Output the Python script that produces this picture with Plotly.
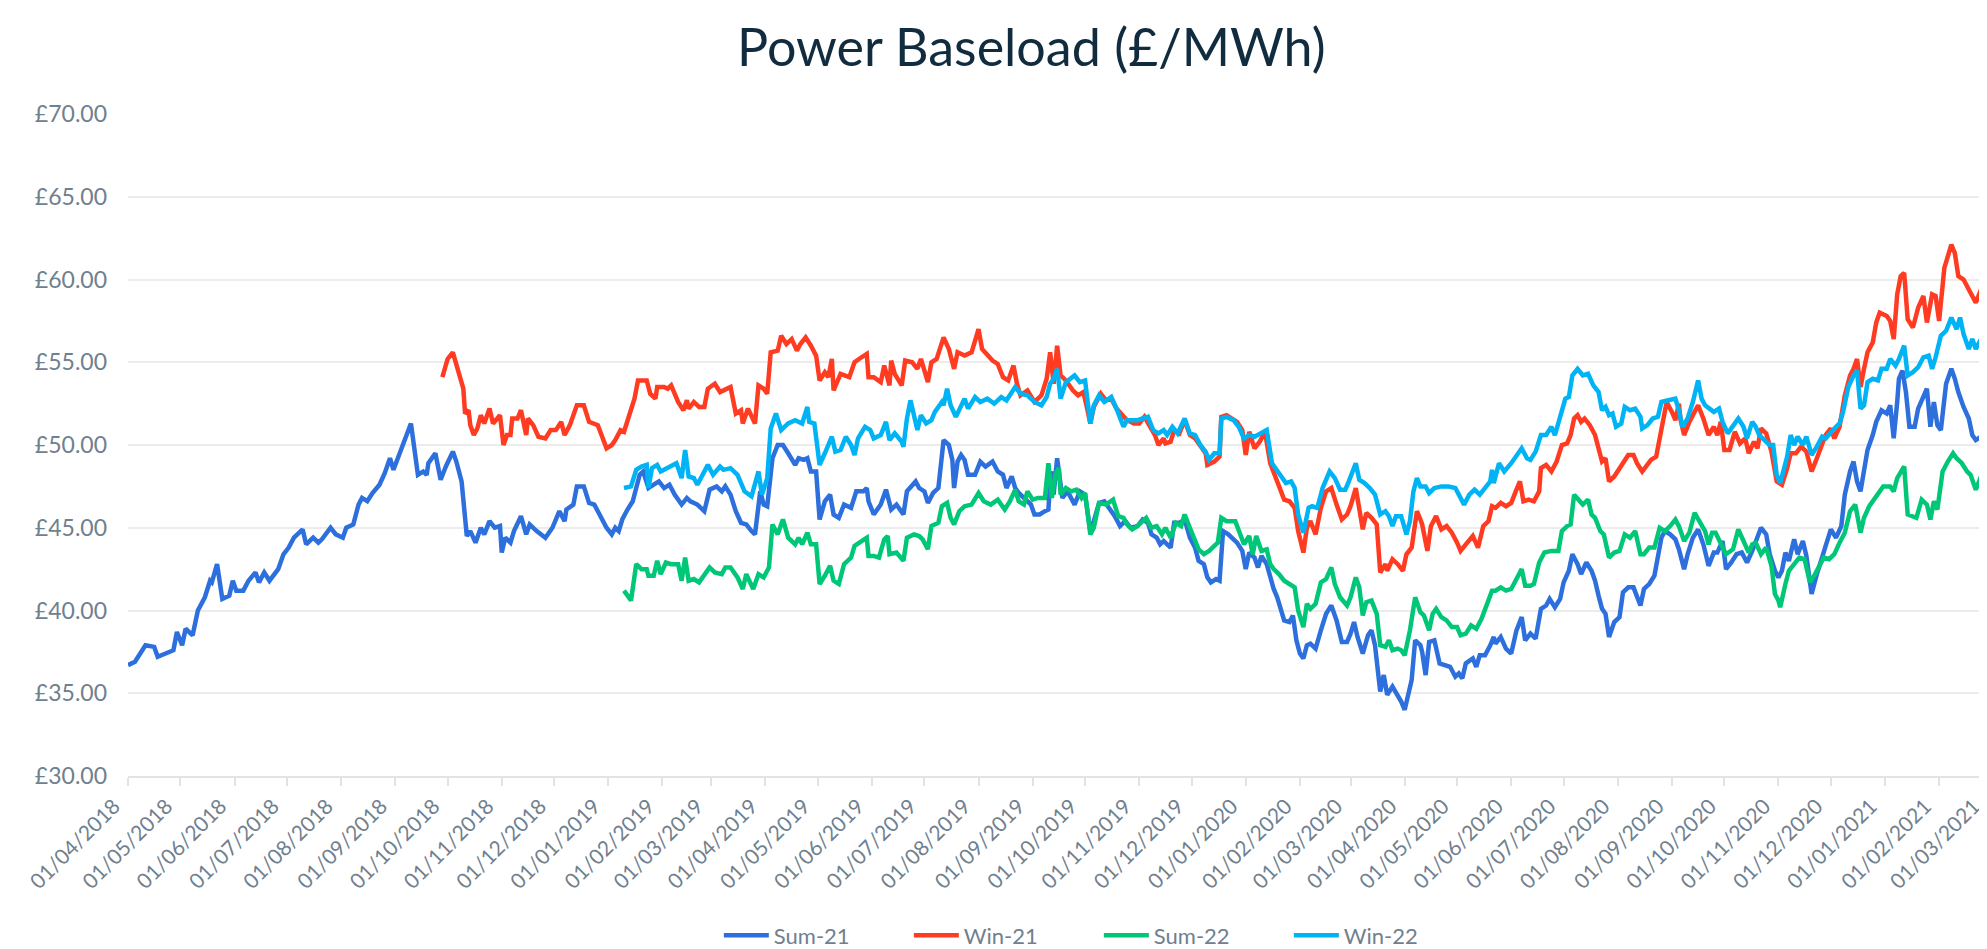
import pandas as pd
import plotly.graph_objects as go

# (days since 01/04/2018, £/MWh)
sum21 = [(0,36.7),(4,36.9),(10,37.9),(15,37.8),(17,37.2),(26,37.6),(28,38.7),(31,37.9),(33,38.9),(37,38.5),(40,40.0),(44,40.8),(47,41.8),(48,41.7),(51,42.8),(54,40.7),(58,40.9),(60,41.8),(62,41.2),(66,41.2),(69,41.8),(73,42.3),(75,41.7),(78,42.3),(81,41.8),(86,42.5),(89,43.4),(92,43.8),(95,44.4),(100,44.9),(102,44.0),(106,44.4),(109,44.1),(111,44.3),(116,45.0),(119,44.6),(123,44.4),(125,45.0),(129,45.2),(132,46.4),(134,46.8),(137,46.6),(140,47.1),(144,47.6),(147,48.3),(150,49.2),(152,48.5),(156,49.7),(162,51.3),(166,48.2),(169,48.4),(171,48.2),(172,48.9),(176,49.5),(179,47.9),(182,48.7),(186,49.6),(188,49.0),(191,47.8),(194,44.5),(196,44.8),(199,44.1),(202,45.0),(204,44.6),(207,45.4),(210,45.0),(213,45.1),(214,43.5),(216,44.4),(219,44.1),(221,44.8),(225,45.7),(228,44.6),(230,45.2),(234,44.8),(239,44.4),(243,45.0),(247,46.0),(250,45.4),(251,46.1),(255,46.4),(257,47.5),(261,47.5),(264,46.5),(267,46.4),(270,45.8),(274,45.0),(277,44.6),(279,45.0),(281,44.8),(283,45.5),(286,46.1),(289,46.6),(291,47.4),(293,48.2),(295,48.4),(298,47.4),(301,47.6),(304,47.8),(307,47.4),(310,47.6),(313,47.0),(317,46.4),(320,46.8),(322,46.6),(326,46.4),(330,46.0),(333,47.3),(337,47.5),(340,47.2),(342,47.5),(345,47.0),(348,46.0),(351,45.3),(354,45.2),(357,44.8),(359,44.6),(362,47.2),(364,46.4),(366,46.3),(369,49.2),(372,50.0),(375,50.0),(378,49.5),(382,48.8),(384,49.2),(387,49.1),(389,49.2),(391,48.4),(394,48.4),(396,45.5),(399,46.6),(402,47.0),(404,45.8),(407,45.6),(410,46.4),(414,46.2),(417,47.2),(421,47.2),(423,47.4),(424,46.6),(427,45.8),(431,46.4),(434,47.3),(437,46.1),(440,46.4),(444,45.8),(446,47.2),(449,47.6),(451,47.8),(453,47.4),(456,47.2),(458,46.5),(461,47.1),(464,47.4),(466,49.0),(467,50.3),(470,50.0),(472,49.1),(473,47.4),(475,49.0),(477,49.4),(479,49.1),(481,48.2),(485,48.2),(488,49.0),(491,48.7),(495,49.0),(498,48.4),(501,48.2),(503,47.4),(506,48.1),(508,47.4),(510,47.1),(513,46.8),(517,46.4),(519,45.8),(522,45.8),(525,46.0),(527,46.1),(528,47.8),(529,48.4),(530,47.0),(532,49.2),(535,46.8),(538,47.2),(542,46.4),(545,47.2),(548,47.0),(551,44.8),(553,45.4),(556,46.5),(559,46.6),(562,46.2),(565,45.7),(568,45.1),(571,45.4),(574,45.0),(578,45.1),(581,45.5),(584,45.3),(586,44.6),(589,44.4),(591,44.0),(593,44.2),(597,43.8),(599,45.3),(602,45.3),(605,45.5),(608,44.4),(611,43.8),(613,43.0),(616,42.8),(618,42.0),(620,41.7),(623,41.9),(625,41.8),(627,44.8),(630,44.6),(633,44.3),(635,44.1),(638,43.6),(640,42.5),(642,43.5),(645,43.2),(647,42.6),(649,43.3),(652,42.8),(654,41.9),(656,41.3),(658,40.8),(660,40.2),(662,39.4),(665,39.3),(667,39.7),(669,38.2),(671,37.4),(673,37.1),(675,37.9),(677,38.0),(680,37.7),(683,38.8),(686,39.8),(689,40.3),(692,39.4),(695,38.1),(698,38.1),(700,38.6),(702,39.3),(704,38.4),(707,37.4),(710,38.5),(712,38.8),(714,37.9),(717,35.1),(719,36.1),(721,34.9),(724,35.4),(727,34.9),(729,34.5),(731,34.0),(733,35.0),(735,35.8),(737,38.2),(740,37.9),(741,37.5),(743,36.1),(745,38.1),(748,38.2),(751,36.8),(754,36.7),(757,36.6),(760,36.0),(762,36.2),(764,35.9),(766,36.8),(770,37.1),(772,36.6),(774,37.3),(777,37.3),(780,37.9),(782,38.4),(783,38.0),(786,38.4),(789,37.7),(792,37.4),(795,38.8),(798,39.6),(800,38.2),(803,38.6),(806,38.3),(809,40.1),(812,40.3),(814,40.7),(817,40.2),(820,40.7),(822,41.7),(825,42.4),(827,43.4),(830,42.8),(832,42.2),(835,42.9),(838,42.4),(840,41.8),(842,40.9),(844,40.1),(846,39.8),(848,38.4),(851,39.3),(854,39.6),(856,41.1),(859,41.4),(862,41.4),(866,40.3),(868,41.3),(871,41.6),(874,42.1),(876,43.2),(878,44.4),(880,44.8),(883,44.6),(886,44.3),(888,43.7),(891,42.5),(893,43.4),(896,44.4),(899,44.9),(902,44.0),(905,42.7),(908,43.5),(910,43.5),(913,44.2),(915,42.5),(918,42.9),(921,43.4),(924,43.5),(927,42.9),(930,43.6),(932,44.2),(935,45.0),(938,44.6),(940,43.4),(943,42.4),(945,42.0),(947,42.4),(949,43.5),(951,43.0),(954,44.3),(956,43.4),(959,44.2),(961,43.3),(964,41.0),(967,42.2),(970,43.2),(972,44.0),(975,44.9),(978,44.4),(981,45.1),(983,47.0),(986,48.4),(988,49.0),(990,47.8),(992,47.2),(994,48.3),(996,49.7),(999,50.6),(1001,51.4),(1004,52.1),(1007,51.9),(1009,52.4),(1011,50.4),(1013,52.6),(1014,54.0),(1016,54.5),(1018,53.2),(1020,51.1),(1023,51.1),(1025,52.2),(1028,53.0),(1030,53.4),(1032,51.1),(1034,52.6),(1036,51.2),(1038,50.9),(1041,53.7),(1044,54.6),(1046,54.0),(1048,53.2),(1051,52.3),(1054,51.6),(1056,50.6),(1058,50.3),(1061,50.5),(1064,50.4),(1067,49.8),(1069,50.8)]

win21 = [(180,54.1),(183,55.2),(186,55.6),(189,54.6),(192,53.4),(193,51.9),(195,52.1),(196,51.2),(198,50.6),(200,51.0),(202,51.8),(204,51.3),(207,52.2),(209,51.3),(213,51.8),(215,50.0),(217,50.6),(219,50.6),(220,51.6),(223,51.6),(225,52.1),(228,50.6),(229,51.6),(232,51.2),(235,50.5),(239,50.4),(242,50.9),(245,50.9),(248,51.4),(250,50.6),(253,51.2),(257,52.4),(261,52.4),(264,51.4),(267,51.3),(269,51.2),(274,49.8),(277,50.0),(279,50.3),(282,50.9),(284,50.8),(287,51.8),(290,52.8),(292,53.9),(297,53.9),(299,53.1),(302,52.8),(303,53.5),(307,53.5),(309,53.4),(311,53.6),(315,52.6),(318,52.1),(320,52.7),(321,52.2),(324,52.6),(327,52.3),(330,52.3),(332,53.4),(336,53.7),(339,53.2),(341,53.3),(345,53.5),(348,51.9),(351,52.1),(352,51.3),(355,52.2),(359,51.3),(361,53.6),(364,53.4),(366,53.1),(368,55.6),(372,55.7),(374,56.6),(377,56.1),(380,56.4),(383,55.7),(385,56.1),(388,56.5),(391,56.0),(394,55.4),(396,53.9),(399,54.4),(401,54.1),(403,55.2),(404,53.3),(408,54.3),(413,54.1),(416,55.0),(420,55.3),(423,55.5),(424,54.1),(427,54.1),(431,53.8),(433,54.8),(436,53.6),(437,55.1),(439,54.3),(443,53.6),(445,55.1),(449,55.0),(452,54.6),(454,55.2),(458,53.8),(460,55.0),(463,55.2),(466,56.2),(467,56.5),(470,55.8),(473,54.6),(475,55.6),(479,55.4),(483,55.6),(487,57.0),(489,55.8),(492,55.4),(495,55.1),(498,54.9),(501,54.1),(504,53.9),(507,54.8),(509,53.7),(511,53.0),(515,53.3),(519,52.6),(523,53.0),(526,54.0),(528,55.6),(530,53.7),(532,56.0),(534,54.2),(537,53.9),(541,53.3),(544,53.0),(547,53.2),(549,52.3),(551,51.3),(553,52.3),(557,53.1),(560,52.7),(563,52.8),(566,52.2),(570,51.7),(572,51.5),(576,51.3),(579,51.3),(582,51.7),(585,51.1),(588,50.6),(590,50.0),(593,50.4),(594,50.1),(597,50.2),(599,50.9),(602,50.7),(605,51.5),(608,50.6),(611,50.4),(614,49.9),(617,49.5),(618,48.8),(622,49.0),(625,49.3),(626,51.7),(629,51.8),(632,51.6),(635,51.4),(638,50.9),(640,49.4),(642,50.8),(645,49.8),(648,50.2),(651,50.8),(654,48.9),(656,48.3),(659,47.6),(662,46.7),(665,46.6),(668,46.2),(670,44.8),(673,43.5),(675,45.0),(677,45.4),(680,44.6),(683,46.2),(686,47.2),(689,47.4),(692,46.4),(695,45.5),(698,45.8),(700,46.3),(703,47.4),(705,46.2),(707,44.9),(709,45.9),(712,45.6),(715,45.2),(717,42.3),(720,42.8),(721,42.4),(724,43.1),(727,42.8),(730,42.4),(732,43.4),(735,43.8),(738,46.0),(740,45.5),(741,45.2),(744,43.6),(746,45.1),(749,45.7),(752,44.9),(755,45.1),(758,44.7),(761,44.1),(763,43.6),(766,44.0),(770,44.5),(773,43.8),(776,45.1),(779,45.4),(781,46.3),(783,46.2),(786,46.5),(789,46.3),(792,46.5),(795,47.3),(797,47.8),(799,46.6),(802,46.7),(805,46.6),(808,47.2),(809,48.6),(812,48.8),(815,48.4),(818,49.0),(821,50.0),(824,50.1),(826,50.6),(828,51.6),(830,51.8),(832,51.4),(834,51.6),(837,51.2),(840,50.6),(842,49.8),(844,49.0),(846,49.2),(848,47.8),(851,48.1),(854,48.6),(856,49.0),(859,49.4),(862,49.4),(864,48.9),(867,48.4),(869,48.7),(872,49.1),(875,49.3),(877,50.4),(879,51.6),(881,52.6),(884,52.0),(886,51.5),(888,52.5),(889,51.5),(891,50.6),(894,51.4),(897,52.0),(899,52.4),(902,51.6),(905,50.6),(908,51.1),(910,50.6),(912,51.4),(914,49.7),(917,49.7),(920,50.8),(923,50.1),(926,50.4),(928,49.5),(931,50.2),(933,49.8),(935,51.0),(938,50.7),(941,49.6),(944,47.8),(947,47.6),(950,48.6),(952,49.5),(955,49.5),(958,49.9),(961,49.6),(964,48.4),(967,49.2),(970,50.0),(972,50.6),(975,51.0),(977,50.4),(980,51.1),(983,53.0),(986,54.2),(988,54.6),(990,55.2),(992,53.5),(994,54.6),(996,55.6),(999,56.2),(1001,57.4),(1003,58.0),(1007,57.8),(1009,57.5),(1011,56.4),(1013,59.1),(1015,60.2),(1017,60.4),(1019,57.6),(1022,57.1),(1025,58.3),(1028,59.0),(1030,57.4),(1033,59.1),(1035,59.0),(1037,57.5),(1040,60.7),(1044,62.1),(1046,61.6),(1048,60.2),(1051,60.0),(1054,59.4),(1056,59.0),(1058,58.6),(1061,59.4),(1064,59.2),(1067,59.8),(1069,61.0)]

sum22 = [(284,41.2),(288,40.6),(291,42.8),(294,42.5),(297,42.5),(298,42.1),(301,42.1),(303,43.0),(305,42.2),(308,42.9),(311,42.8),(315,42.8),(317,41.8),(319,43.2),(321,41.8),(324,41.9),(327,41.7),(330,42.2),(333,42.6),(336,42.3),(340,42.2),(342,42.6),(345,42.6),(349,42.0),(352,41.3),(354,42.2),(358,41.3),(361,42.2),(364,42.0),(367,42.6),(369,45.2),(372,44.6),(375,45.5),(378,44.4),(382,44.0),(384,44.4),(386,44.0),(389,44.7),(391,44.0),(394,44.0),(396,41.6),(399,42.1),(402,42.7),(404,41.8),(407,41.6),(410,42.8),(414,43.2),(416,43.9),(420,44.2),(423,44.4),(424,43.3),(427,43.3),(430,43.2),(433,44.3),(435,44.5),(436,43.4),(440,43.5),(444,43.0),(446,44.4),(450,44.6),(453,44.5),(455,44.3),(458,43.7),(460,45.1),(464,45.3),(466,46.3),(469,46.5),(471,45.6),(473,45.2),(476,46.0),(479,46.3),(483,46.4),(487,47.1),(490,46.6),(494,46.4),(498,46.7),(502,46.1),(505,46.6),(508,47.3),(510,46.6),(513,46.4),(515,47.2),(518,46.7),(521,46.8),(525,46.8),(527,48.9),(529,46.8),(531,48.2),(533,48.6),(534,47.0),(537,47.4),(540,47.2),(543,47.3),(546,46.8),(548,47.1),(551,44.6),(553,45.0),(556,46.5),(560,46.4),(564,46.7),(567,45.7),(570,45.6),(572,45.2),(575,44.9),(578,45.1),(583,45.6),(586,45.0),(589,45.1),(592,44.6),(594,45.0),(597,44.4),(600,45.3),(603,45.1),(605,45.8),(608,45.0),(611,44.2),(613,43.7),(616,43.4),(619,43.6),(622,43.9),(624,44.1),(626,45.6),(629,45.4),(634,45.4),(636,44.8),(639,44.0),(642,44.5),(644,43.4),(646,44.5),(649,43.6),(652,43.7),(654,42.8),(656,42.5),(659,42.2),(662,41.8),(665,41.6),(668,41.4),(670,40.0),(673,39.0),(675,40.4),(677,40.1),(680,40.4),(683,41.7),(686,41.9),(689,42.6),(691,41.6),(694,40.8),(698,40.3),(700,40.8),(703,42.0),(705,41.4),(707,39.7),(709,40.5),(712,40.6),(715,39.8),(717,37.9),(720,37.8),(722,38.2),(724,37.6),(727,37.7),(729,37.6),(731,37.3),(734,38.8),(737,40.8),(740,39.9),(742,39.7),(745,38.8),(747,39.8),(749,40.1),(752,39.6),(755,39.4),(758,39.0),(761,39.0),(763,38.5),(766,38.6),(769,39.1),(772,38.9),(775,39.5),(778,40.4),(781,41.2),(783,41.2),(786,41.4),(789,41.2),(792,41.3),(795,41.9),(798,42.5),(800,41.5),(803,41.5),(805,41.6),(808,42.9),(811,43.5),(815,43.6),(819,43.6),(821,44.8),(824,45.1),(826,45.2),(828,47.0),(831,46.6),(833,46.4),(836,46.7),(838,45.8),(840,45.6),(843,44.8),(845,44.6),(848,43.2),(851,43.5),(854,43.6),(857,44.6),(860,44.4),(863,44.8),(866,43.4),(868,43.4),(871,43.8),(874,43.8),(877,45.0),(880,44.8),(883,45.1),(886,45.5),(888,45.1),(891,44.2),(894,44.7),(897,45.9),(900,45.3),(903,44.8),(905,44.0),(907,44.7),(909,44.7),(912,44.0),(915,43.4),(919,43.7),(922,44.9),(925,44.2),(928,43.5),(930,44.0),(932,44.1),(935,43.4),(938,43.8),(941,42.7),(943,41.0),(945,40.6),(946,40.2),(949,41.6),(951,42.4),(954,42.8),(957,43.2),(960,43.1),(963,41.7),(966,42.2),(969,42.8),(971,43.2),(974,43.1),(977,43.4),(980,44.1),(983,44.7),(986,46.0),(989,46.4),(992,44.7),(994,45.6),(997,46.3),(1001,46.9),(1005,47.5),(1009,47.5),(1011,47.2),(1013,48.0),(1015,48.4),(1017,48.7),(1019,45.8),(1022,45.7),(1024,45.6),(1027,46.7),(1030,46.4),(1032,45.5),(1034,46.6),(1036,46.1),(1039,48.4),(1042,49.0),(1045,49.5),(1047,49.2),(1050,48.9),(1053,48.4),(1055,48.2),(1058,47.3),(1061,48.1),(1064,48.0),(1067,48.0),(1069,48.6)]

win22 = [(284,47.4),(288,47.5),(291,48.5),(294,48.7),(297,48.8),(298,47.4),(300,48.6),(303,48.8),(305,48.4),(309,48.6),(314,48.9),(317,48.0),(319,49.7),(321,48.1),(324,48.0),(326,47.6),(329,48.2),(332,48.8),(335,48.2),(339,48.7),(341,48.5),(345,48.6),(349,48.2),(353,47.2),(357,46.9),(360,48.2),(361,48.4),(363,47.0),(366,48.0),(368,51.0),(371,51.9),(374,50.9),(378,51.3),(382,51.5),(386,51.3),(389,52.3),(390,51.4),(393,51.3),(396,48.8),(399,49.5),(402,50.2),(403,50.5),(405,49.6),(408,49.7),(411,50.5),(414,50.0),(416,49.4),(418,50.4),(422,51.1),(425,50.9),(427,50.4),(431,50.6),(434,51.4),(436,50.3),(439,50.7),(443,50.2),(444,49.9),(446,51.6),(448,52.7),(451,51.4),(452,50.9),(454,51.8),(457,51.3),(460,51.5),(462,52.0),(466,52.6),(467,52.4),(469,53.4),(471,52.4),(474,51.7),(477,52.3),(479,52.8),(481,52.2),(485,52.9),(488,52.6),(492,52.8),(496,52.5),(500,52.9),(503,52.7),(506,53.2),(508,53.5),(511,53.1),(515,53.0),(519,52.6),(523,52.4),(526,52.9),(528,53.7),(530,54.0),(532,54.6),(534,52.8),(537,53.8),(542,54.2),(545,53.8),(548,53.9),(551,51.3),(553,52.4),(556,53.0),(559,52.6),(563,52.9),(566,52.2),(570,51.1),(572,51.5),(578,51.5),(581,51.6),(584,51.7),(587,50.9),(590,50.7),(593,50.9),(595,50.6),(598,51.1),(601,50.7),(605,51.6),(608,50.7),(611,50.6),(614,50.0),(617,49.6),(619,49.1),(622,49.5),(625,49.5),(626,51.6),(629,51.7),(633,51.5),(636,51.1),(639,50.4),(642,50.6),(645,50.5),(648,50.7),(652,50.9),(655,48.9),(657,48.6),(660,48.2),(663,47.7),(666,47.8),(668,47.4),(670,45.8),(673,44.7),(676,46.2),(678,46.3),(681,46.2),(684,47.4),(688,48.4),(691,48.0),(694,47.3),(697,47.3),(699,47.8),(703,48.9),(705,47.9),(708,47.7),(711,47.4),(714,47.0),(717,45.8),(720,46.0),(722,45.7),(724,45.1),(726,45.7),(729,45.7),(732,44.6),(734,45.4),(736,47.2),(738,48.0),(740,47.5),(743,47.5),(745,47.1),(748,47.4),(752,47.5),(756,47.5),(760,47.4),(762,47.0),(765,46.4),(768,47.0),(771,47.3),(774,47.0),(777,47.4),(780,47.8),(781,48.5),(782,47.7),(785,48.9),(788,48.4),(792,48.9),(795,49.3),(798,49.8),(801,49.2),(803,49.1),(806,49.6),(809,50.6),(812,50.6),(815,51.1),(817,50.6),(820,51.6),(823,52.8),(825,52.9),(827,54.2),(830,54.6),(833,54.2),(836,54.3),(839,53.6),(842,53.2),(844,52.1),(846,52.3),(848,51.8),(850,51.9),(852,51.1),(855,51.3),(857,52.3),(860,52.1),(863,52.2),(866,51.7),(867,51.0),(870,51.2),(873,51.6),(876,51.7),(878,52.6),(882,52.7),(886,52.8),(888,52.1),(890,51.1),(893,51.6),(896,52.6),(899,53.9),(901,52.8),(903,52.4),(906,52.2),(908,52.0),(911,52.2),(913,51.4),(916,50.7),(919,51.2),(922,51.6),(925,51.1),(927,50.4),(930,51.4),(932,51.1),(934,50.6),(937,50.3),(940,50.0),(942,50.0),(944,48.2),(946,47.7),(948,48.4),(950,49.3),(952,50.6),(954,50.0),(956,50.5),(959,50.0),(961,50.5),(964,49.4),(967,49.9),(970,50.5),(972,50.4),(975,50.8),(978,51.1),(980,51.3),(982,52.0),(985,53.5),(988,54.2),(990,54.5),(992,52.2),(994,52.4),(996,53.8),(999,54.0),(1002,53.9),(1004,54.6),(1007,54.6),(1009,55.2),(1012,54.8),(1014,55.2),(1017,56.0),(1019,54.2),(1022,54.4),(1025,54.7),(1028,55.3),(1031,55.4),(1033,54.6),(1035,55.3),(1038,56.6),(1041,56.9),(1044,57.7),(1047,57.0),(1049,57.7),(1051,56.7),(1054,55.8),(1056,56.4),(1058,55.8),(1061,56.4),(1064,56.0),(1067,56.2),(1069,56.9)]

series_names = ["Sum-21", "Win-21", "Sum-22", "Win-22"]
series_data = [sum21, win21, sum22, win22]
series_colors = ["#2d6fdc", "#ff3c22", "#00c777", "#00b3f4"]

base = pd.Timestamp("2018-04-01")

fig = go.Figure()
for name, data, color in zip(series_names, series_data, series_colors):
    days = [d for d, _ in data]
    vals = [v for _, v in data]
    dates = base + pd.to_timedelta(days, unit="D")
    fig.add_trace(go.Scatter(x=dates, y=vals, mode="lines", name=name,
                             line=dict(color=color, width=4.5)))

label_color = "#6f808e"
fig.update_layout(
    width=1987, height=949,
    margin=dict(l=120, r=0, t=106, b=176),
    paper_bgcolor="white", plot_bgcolor="white",
    font=dict(family="Lato", color=label_color),
    title=dict(text="Power Baseload (£/MWh)", x=0.515, xanchor="center",
               y=1 - 40 / 949, yanchor="middle",
               font=dict(family="Lato", size=52, color="#112b3f")),
    legend=dict(orientation="h", x=0.52, xanchor="center", y=-0.241, yanchor="middle",
                font=dict(size=22, color=label_color), entrywidth=130,
                entrywidthmode="pixels", itemwidth=45),
)
fig.update_xaxes(
    type="date", range=["2018-04-01", "2021-03-05"],
    tick0="2018-04-01", dtick="M1", tickformat="%d/%m/%Y", tickangle=-45,
    ticks="outside", ticklen=8, tickcolor="#e3e3e3", tickwidth=1.5,
    showline=True, linecolor="#e3e3e3", linewidth=1.5, showgrid=False,
    ticklabeloverflow="allow", ticklabelshift=-14,
    tickfont=dict(size=21, color=label_color),
)
fig.update_yaxes(
    range=[30, 70], dtick=5, tick0=30, tickprefix="£", tickformat=".2f",
    showgrid=True, gridcolor="#ececec", gridwidth=1.5, zeroline=False,
    showline=False, ticks="", ticklabelstandoff=20,
    tickfont=dict(size=23, color=label_color),
)

fig.write_html("out.html")
